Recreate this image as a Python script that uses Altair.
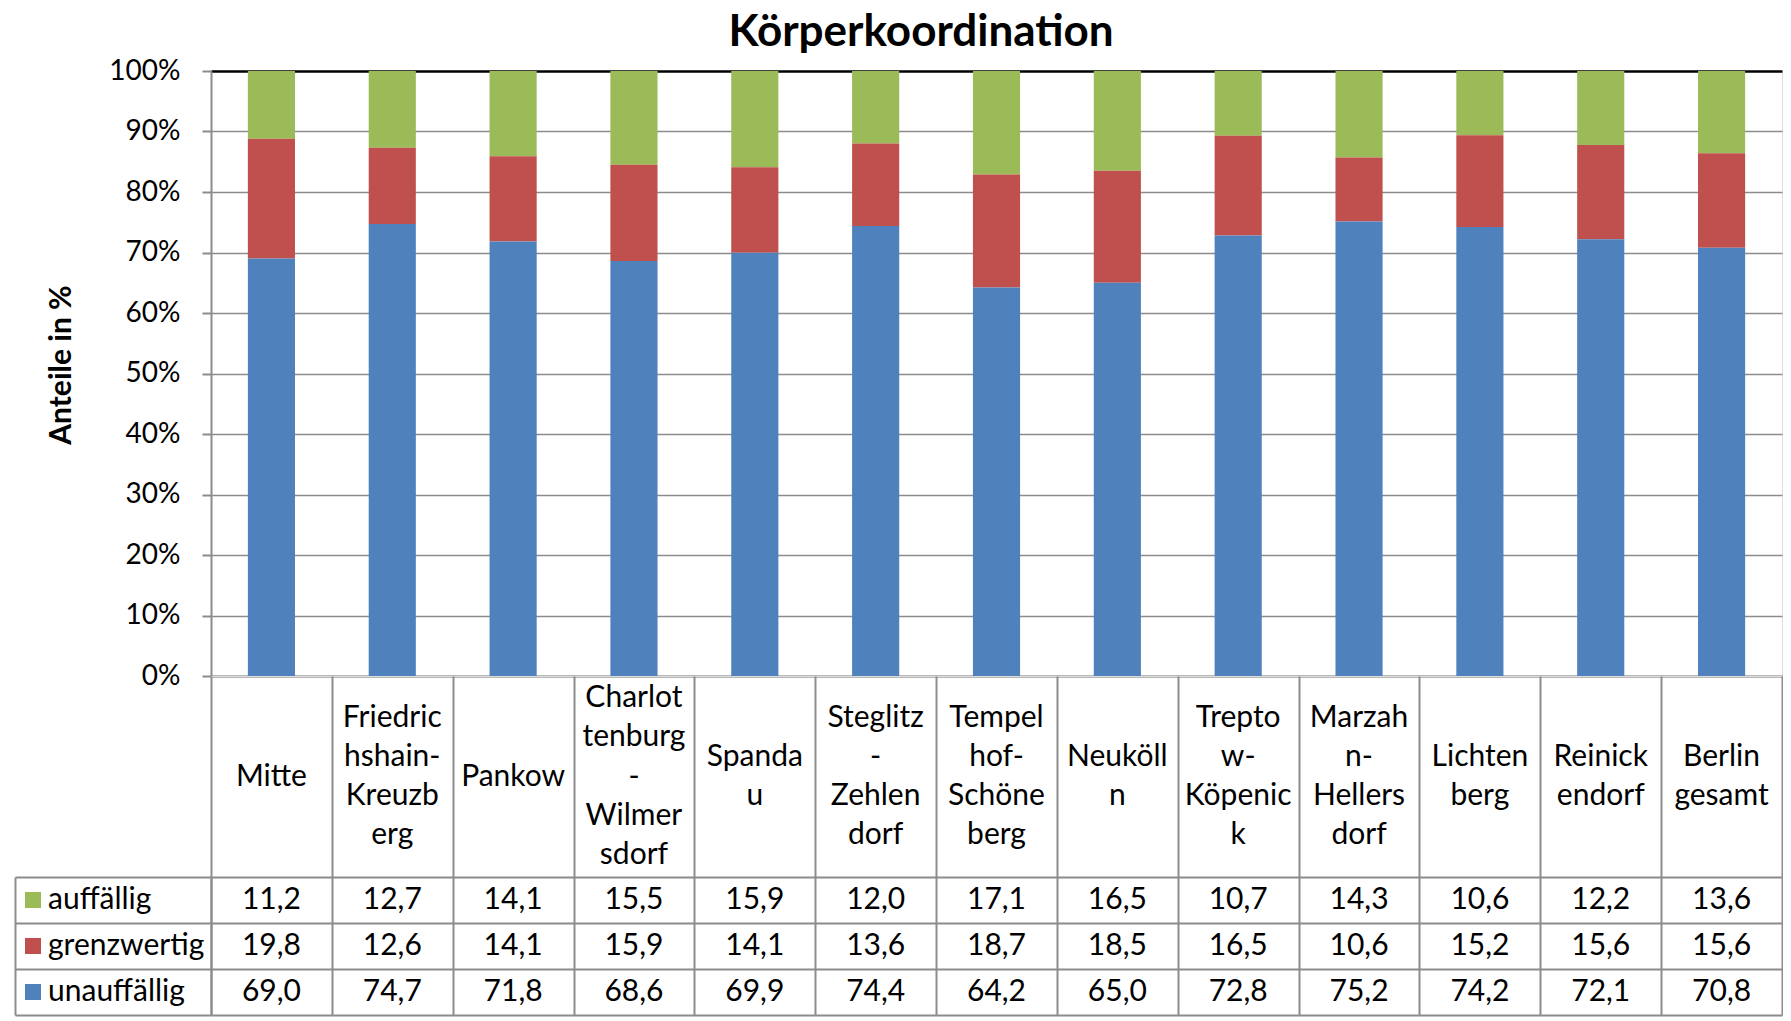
import altair as alt
import pandas as pd

# ---- data (values in %) ----
districts = [
    "Mitte", "Friedrichshain-Kreuzberg", "Pankow", "Charlottenburg-Wilmersdorf",
    "Spandau", "Steglitz-Zehlendorf", "Tempelhof-Schöneberg", "Neukölln",
    "Treptow-Köpenick", "Marzahn-Hellersdorf", "Lichtenberg", "Reinickendorf",
    "Berlin gesamt",
]
# header text as wrapped in the original table
header_lines = [
    ["Mitte"], ["Friedric", "hshain-", "Kreuzb", "erg"], ["Pankow"],
    ["Charlot", "tenburg", "-", "Wilmer", "sdorf"], ["Spanda", "u"],
    ["Steglitz", "-", "Zehlen", "dorf"], ["Tempel", "hof-", "Schöne", "berg"],
    ["Neuköll", "n"], ["Trepto", "w-", "Köpenic", "k"], ["Marzah", "n-", "Hellers", "dorf"],
    ["Lichten", "berg"], ["Reinick", "endorf"], ["Berlin", "gesamt"],
]
auffaellig = [11.2, 12.7, 14.1, 15.5, 15.9, 12.0, 17.1, 16.5, 10.7, 14.3, 10.6, 12.2, 13.6]
grenzwertig = [19.8, 12.6, 14.1, 15.9, 14.1, 13.6, 18.7, 18.5, 16.5, 10.6, 15.2, 15.6, 15.6]
unauffaellig = [69.0, 74.7, 71.8, 68.6, 69.9, 74.4, 64.2, 65.0, 72.8, 75.2, 74.2, 72.1, 70.8]
series = ["auffällig", "grenzwertig", "unauffällig"]
colors = ["#9BBB59", "#C0504D", "#4F81BD"]
y_ticks = [0, 0.1, 0.2, 0.3, 0.4, 0.5, 0.6, 0.7, 0.8, 0.9, 1.0]

rows = []
for name, vals, rank in [(series[0], auffaellig, 2), (series[1], grenzwertig, 1), (series[2], unauffaellig, 0)]:
    for c, v in zip(districts, vals):
        rows.append({"Bezirk": c, "Gruppe": name, "Wert": v, "rank": rank})
df = pd.DataFrame(rows)

# header lines: line slot relative to the vertical centre of the cell (line index)
hrows = []
for c, lines in zip(districts, header_lines):
    n = len(lines)
    for i, t in enumerate(lines):
        hrows.append({"Bezirk": c, "Zeile": t, "slot": 2 * i - (n - 1)})
hdf = pd.DataFrame(hrows)

FONT = "Lato"
GRID = "#8c8c8c"
W = 1571
H = 605
HEADER = 201
ROWS_H = 138
FS = 30

xscale = alt.Scale(paddingInner=0, paddingOuter=0)

top = alt.Chart(df).mark_bar(width={"band": 0.39}).encode(
    x=alt.X("Bezirk:N", sort=districts, scale=xscale,
            axis=alt.Axis(title=None, labels=False, ticks=False,
                          domainColor=GRID, domainWidth=2)),
    y=alt.Y("Wert:Q", stack="normalize", scale=alt.Scale(domain=[0, 1], nice=False),
            axis=alt.Axis(title="Anteile in %", format=".0%", values=y_ticks,
                          labelFontSize=28, labelFont=FONT, labelColor="black",
                          labelPadding=22, tickSize=9, tickColor=GRID, tickWidth=2,
                          domainColor=GRID, domainWidth=2,
                          gridColor={"condition": {"test": "datum.value >= 1", "value": "black"}, "value": GRID},
                          gridWidth={"condition": {"test": "datum.value >= 1", "value": 2.5}, "value": 1.5},
                          titleFontSize=30, titleFont=FONT, titleFontWeight="bold",
                          titleColor="black", titlePadding=32, titleY=H / 2 - 9)),
    color=alt.Color("Gruppe:N", scale=alt.Scale(domain=series, range=colors),
                    legend=alt.Legend(orient="none", legendX=-193, legendY=H + HEADER + 8,
                                      title=None, symbolType="square", symbolSize=256,
                                      symbolStrokeWidth=0, symbolOpacity=1,
                                      labelFontSize=FS, labelFont=FONT, labelColor="black",
                                      labelOffset=0, rowPadding=16, padding=0)),
    order=alt.Order("rank:Q"),
).properties(width=W, height=H)

header = alt.Chart(hdf).mark_text(font=FONT, fontSize=FS, color="black", baseline="middle").encode(
    x=alt.X("Bezirk:N", sort=districts, scale=xscale,
            axis=alt.Axis(title=None, labels=False, ticks=False, domain=False, grid=True,
                          tickBand="extent", gridColor=GRID, gridWidth=2)),
    y=alt.Y("slot:Q", scale=alt.Scale(domain=[-5.15, 5.15], reverse=True, nice=False, zero=False),
            axis=None),
    text="Zeile:N",
).properties(width=W, height=HEADER)

text_layer = alt.Chart(df).mark_text(font=FONT, fontSize=FS, color="black").encode(
    x=alt.X("Bezirk:N", sort=districts, scale=xscale,
            axis=alt.Axis(title=None, labels=False, ticks=False, domain=False, grid=True,
                          tickBand="extent", gridColor=GRID, gridWidth=2)),
    y=alt.Y("Gruppe:N", sort=series,
            axis=alt.Axis(title=None, labels=False, ticks=True, tickBand="extent",
                          tickSize=196, tickColor=GRID, tickWidth=2, grid=True,
                          gridColor=GRID, gridWidth=2, domainColor=GRID, domainWidth=2)),
    text=alt.Text("Wert:Q", format=".1f"),
)
border_layer = alt.Chart(df).mark_point(opacity=0).encode(
    y=alt.Y("Gruppe:N", sort=series,
            axis=alt.Axis(orient="left", title=None, labels=False, ticks=False, grid=False,
                          offset=196, domainColor=GRID, domainWidth=2)),
)
table = alt.layer(text_layer, border_layer).resolve_axis(y="independent").properties(
    width=W, height=ROWS_H)

chart = alt.vconcat(top, header, table, spacing=0, bounds="flush").resolve_scale(
    y="independent").properties(
    title=alt.TitleParams("Körperkoordination", fontSize=44, font=FONT, fontWeight="bold",
                          color="black", anchor="middle", dx=23, offset=2),
    padding={"left": 5, "top": 2, "right": 0, "bottom": 0},
).configure_view(stroke=None).configure(
    locale={"number": {"decimal": ",", "thousands": ".", "grouping": [3], "currency": ["", " €"]}}
)

chart.save("out.html", embed_options={"renderer": "svg", "actions": False})
